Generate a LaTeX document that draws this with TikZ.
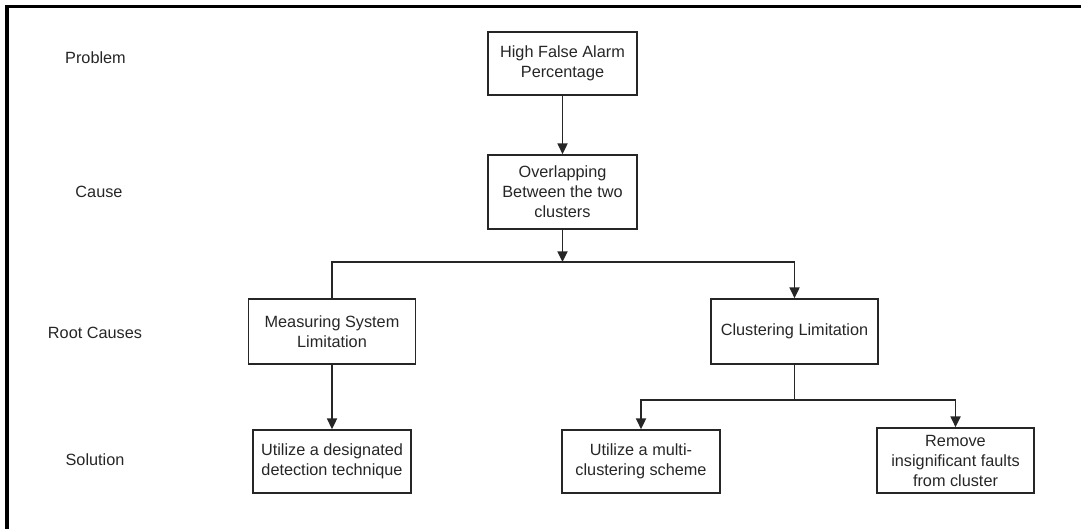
\documentclass[tikz,border=0pt]{standalone}
\usepackage{fontspec}
\setmainfont{Liberation Sans}
\usetikzlibrary{arrows.meta}
\begin{document}
\begin{tikzpicture}[x=0.75pt,y=-0.75pt,
  every node/.style={font=\fontsize{12.2}{15}\selectfont, text=black!85},
  boxnode/.style={draw=black!85, line width=1.3pt, align=center, inner sep=0pt},
  lbl/.style={inner sep=0pt},
  conn/.style={draw=black!85, line width=1.3pt},
  arr/.style={conn, -{Triangle[length=8pt,width=7.5pt]}},
  frame/.style={draw=black, line width=2.4pt}]
\useasboundingbox (0,0) rectangle (1081,529);
\draw[frame] (7,529) -- (7,6.5) -- (1081,6.5);
% row labels
\node[lbl] (lp) at (95.5,58) {Problem};
\node[lbl] (lc) at (99,192) {Cause};
\node[lbl] (lr) at (95,333) {Root Causes};
\node[lbl] (ls) at (95,460) {Solution};
% boxes
\node[boxnode, minimum width=111.75pt, minimum height=47.25pt] (hf) at (562.5,63.5) {High False Alarm\\Percentage};
\node[boxnode, minimum width=111.75pt, minimum height=55.5pt] (ov) at (562.5,192) {Overlapping\\Between the two\\clusters};
\node[boxnode, minimum width=125.25pt, minimum height=48.75pt] (ms) at (332,331.5) {Measuring System\\Limitation};
\node[boxnode, minimum width=125.25pt, minimum height=48.75pt] (cl) at (794.5,331.5) {Clustering Limitation};
\node[boxnode, minimum width=118.5pt, minimum height=47.25pt] (ud) at (332,461.5) {Utilize a designated\\detection technique};
\node[boxnode, minimum width=118.5pt, minimum height=47.25pt] (um) at (641,461.5) {Utilize a multi-\\clustering scheme};
\node[boxnode, minimum width=117.75pt, minimum height=48.75pt] (rm) at (955.5,460.5) {Remove\\insignificant faults\\from cluster};
% junctions
\coordinate (j1) at (562.5,262);
\coordinate (j2) at (794.5,400);
% connectors
\draw[arr] (hf.south) -- (ov.north);
\draw[arr] (ov.south) -- (j1);
\draw[arr] (ms.north) |- (j1) -| (cl.north);
\draw[arr] (ms.south) -- (ud.north);
\draw[conn] (cl.south) -- (j2);
\draw[arr] (j2) -| (um.north);
\draw[arr] (j2) -| (rm.north);
\end{tikzpicture}
\end{document}
